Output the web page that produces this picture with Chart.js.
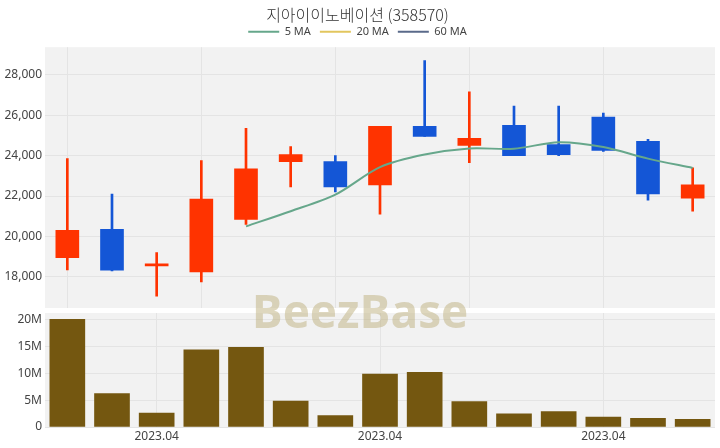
<!DOCTYPE html>
<html>
<head>
<meta charset="utf-8">
<script src="https://cdn.jsdelivr.net/npm/chart.js@4.4.0/dist/chart.umd.min.js"></script>
<style>
  body { margin: 0; background: #fff; }
  #wrap { position: relative; width: 720px; height: 448px; }
  #top { position: absolute; left: 0; top: 0; width: 720px; height: 310px; }
  #bot { position: absolute; left: 0; top: 310px; width: 720px; height: 138px; }
  #mark { position: absolute; left: 0; top: 279px; width: 720px; text-align: center;
          font: bold 46px 'Open Sans', sans-serif; color: rgba(190, 175, 125, 0.5); pointer-events: none; }
</style>
</head>
<body>
<div id="wrap">
  <div id="top"><canvas id="priceChart"></canvas></div>
  <div id="bot"><canvas id="volChart"></canvas></div>
  <div id="mark">BeezBase</div>
</div>
<script>
// x axis tick labels (only three are shown in the picture)
const xLabels = ['', '', '2023.04', '', '', '', '', '2023.04', '', '', '', '', '2023.04', '', ''];

const opens  = [18950, 20350, 18550, 18250, 20850, 23700, 23700, 22550, 25450, 24500, 25500, 24550, 25900, 24700, 21900];
const highs  = [23850, 22100, 19200, 23750, 25350, 24450, 24000, 25450, 28700, 27150, 26450, 26450, 26100, 24800, 23400];
const lows   = [18350, 18300, 17050, 17750, 20600, 22450, 22200, 21100, 24950, 23650, 24000, 24000, 24200, 21800, 21250];
const closes = [20300, 18330, 18650, 21850, 23350, 24050, 22450, 25450, 24950, 24850, 24000, 24050, 24250, 22100, 22550];

const ma5  = [null, null, null, null, 20500, 21250, 22070, 23430, 24050, 24350, 24340, 24660, 24420, 23850, 23390];
const ma20 = [];
const ma60 = [];

const volumes = [20100000, 6260000, 2620000, 14400000, 14900000, 4820000, 2130000, 9880000, 10200000, 4760000, 2440000, 2890000, 1870000, 1630000, 1440000];

const priceTicks = [18000, 20000, 22000, 24000, 26000, 28000];
const volTicks = [0, 5000000, 10000000, 15000000, 20000000];

const UP = '#ff3300';
const DOWN = '#1456d6';
const candleColor = (ctx) => closes[ctx.dataIndex] >= opens[ctx.dataIndex] ? UP : DOWN;

const plotBg = {
  id: 'plotBg',
  beforeDraw(chart) {
    const { ctx, chartArea: a } = chart;
    ctx.save();
    ctx.fillStyle = '#f2f2f2';
    ctx.fillRect(a.left, a.top, a.width, a.height);
    ctx.restore();
  }
};

// fixed axis width, and no extra room for half tick labels at the ends
const fitY = (s) => { s.width = 45; s.paddingTop = 0; s.paddingBottom = 0; };

Chart.defaults.font.family = "'Noto Sans', sans-serif";
Chart.defaults.color = '#444';
Chart.defaults.animation = false;

const tickFont = { size: 12 };
const gridColor = '#e4e4e4';

new Chart(document.getElementById('priceChart'), {
  type: 'bar',
  data: {
    labels: xLabels,
    datasets: [
      {
        label: 'wick',
        data: lows.map((l, i) => [l, highs[i]]),
        backgroundColor: candleColor,
        barThickness: 2,
        grouped: false,
        order: 3
      },
      {
        label: 'body',
        data: opens.map((o, i) => [o, closes[i]]),
        backgroundColor: candleColor,
        barThickness: 23,
        grouped: false,
        order: 2
      },
      {
        type: 'line',
        label: '5 MA',
        data: ma5,
        borderColor: '#66a78b',
        backgroundColor: '#66a78b',
        borderWidth: 2,
        pointRadius: 0,
        tension: 0.3,
        order: 0
      },
      {
        type: 'line',
        label: '20 MA',
        data: ma20,
        borderColor: '#e2c65e',
        backgroundColor: '#e2c65e',
        borderWidth: 2,
        pointRadius: 0,
        order: 0
      },
      {
        type: 'line',
        label: '60 MA',
        data: ma60,
        borderColor: '#5a6a8a',
        backgroundColor: '#5a6a8a',
        borderWidth: 2,
        pointRadius: 0,
        order: 0
      }
    ]
  },
  options: {
    responsive: true,
    maintainAspectRatio: false,
    layout: { padding: { left: 0, right: 5, top: 0, bottom: 2 } },
    plugins: {
      title: {
        display: true,
        text: '지아이이노베이션 (358570)',
        font: { family: "'Noto Sans CJK KR', sans-serif", size: 16, weight: 300 },
        color: '#333',
        padding: { top: 5, bottom: -7 }
      },
      legend: {
        display: true,
        labels: {
          boxWidth: 31,
          boxHeight: 2,
          padding: 9,
          font: { size: 11 },
          color: '#444',
          generateLabels(chart) {
            return Chart.defaults.plugins.legend.labels.generateLabels(chart)
              .filter(l => l.datasetIndex >= 2)
              .map(l => ({ ...l, lineWidth: 0, fillStyle: l.strokeStyle }));
          }
        }
      },
      tooltip: { enabled: false }
    },
    scales: {
      x: {
        offset: true,
        ticks: { display: false },
        grid: {
          offset: false,
          drawTicks: false,
          color: (ctx) => ctx.index % 3 === 0 ? gridColor : 'rgba(0,0,0,0)'
        },
        border: { display: false },
        afterFit: (s) => { s.height = 0; }
      },
      y: {
        min: 16466,
        max: 29358,
        afterBuildTicks: (s) => { s.ticks = priceTicks.map(v => ({ value: v })); },
        ticks: {
          font: tickFont,
          padding: 3,
          callback: (v) => v.toLocaleString('en-US')
        },
        grid: { color: gridColor, drawTicks: false },
        border: { display: false },
        afterFit: fitY
      }
    }
  },
  plugins: [plotBg]
});

new Chart(document.getElementById('volChart'), {
  type: 'bar',
  data: {
    labels: xLabels,
    datasets: [{
      label: 'Volume',
      data: volumes,
      backgroundColor: '#745710',
      barThickness: 35
    }]
  },
  options: {
    responsive: true,
    maintainAspectRatio: false,
    layout: { padding: { left: 0, right: 5, top: 3, bottom: 0 } },
    plugins: { legend: { display: false }, tooltip: { enabled: false } },
    scales: {
      x: {
        offset: true,
        ticks: { autoSkip: false, maxRotation: 0, font: tickFont, padding: 2 },
        grid: {
          offset: false,
          drawTicks: false,
          color: (ctx) => xLabels[ctx.index] ? gridColor : 'rgba(0,0,0,0)'
        },
        border: { display: false },
        afterFit: (s) => { s.height = 21; }
      },
      y: {
        min: 0,
        max: 21300000,
        afterBuildTicks: (s) => { s.ticks = volTicks.map(v => ({ value: v })); },
        ticks: {
          font: tickFont,
          padding: 3,
          callback: (v) => v === 0 ? '0' : (v / 1000000) + 'M'
        },
        grid: { color: gridColor, drawTicks: false },
        border: { display: false },
        afterFit: fitY
      }
    }
  },
  plugins: [plotBg]
});
</script>
</body>
</html>
